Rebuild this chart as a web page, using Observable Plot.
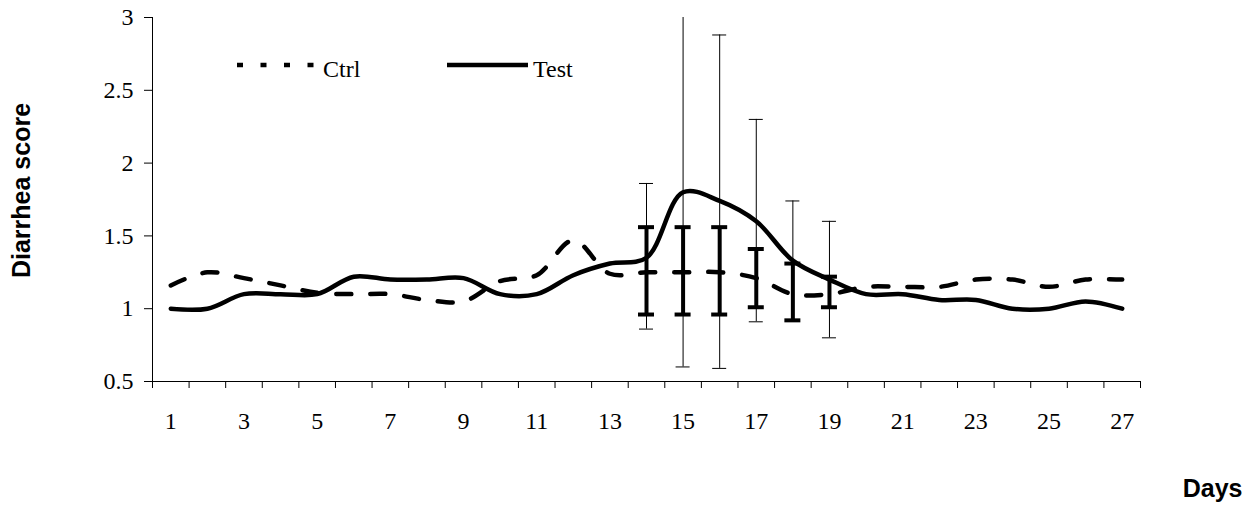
<!DOCTYPE html>
<html>
<head>
<meta charset="utf-8">
<script src="https://cdn.jsdelivr.net/npm/d3@7"></script>
<script src="https://cdn.jsdelivr.net/npm/@observablehq/plot@0.6"></script>
<style>
  html, body { margin: 0; padding: 0; background: #fff; }
  #chart svg { display: block; }
</style>
</head>
<body>
<div id="chart"></div>
<script>
// ---- data ----
const days = d3.range(1, 28);
const ctrl = [1.16, 1.25, 1.21, 1.16, 1.11, 1.10, 1.10, 1.06, 1.05, 1.19, 1.23, 1.47, 1.24, 1.25,
              1.25, 1.25, 1.21, 1.10, 1.10, 1.15, 1.15, 1.15, 1.20, 1.20, 1.15, 1.20, 1.20];
const test = [1.00, 1.00, 1.10, 1.10, 1.10, 1.22, 1.20, 1.20, 1.21, 1.10, 1.10, 1.23, 1.31, 1.35,
              1.80, 1.74, 1.60, 1.33, 1.20, 1.10, 1.10, 1.06, 1.06, 1.00, 1.00, 1.05, 1.00];
const errDays = [14, 15, 16, 17, 18, 19];
const ctrlLo = [0.96, 0.96, 0.96, 1.01, 0.92, 1.01];
const ctrlHi = [1.56, 1.56, 1.56, 1.41, 1.31, 1.22];
const testLo = [0.86, 0.60, 0.59, 0.91, 0.92, 0.80];
const testHi = [1.86, 3.05, 2.88, 2.30, 1.74, 1.60];
const yTicks = [0.5, 1, 1.5, 2, 2.5, 3];
const xLabels = d3.range(1, 28, 2);
const xBounds = d3.range(0.5, 28, 1);
const seriesNames = ["Ctrl", "Test"];
const yTitle = "Diarrhea score";
const xTitle = "Days";

// ---- tables ----
const ctrlRows = days.map((d, i) => ({day: d, v: ctrl[i]}));
const testRows = days.map((d, i) => ({day: d, v: test[i]}));
const ctrlErr = errDays.map((d, i) => ({day: d, lo: ctrlLo[i], hi: ctrlHi[i]}));
const testErr = errDays.map((d, i) => ({day: d, lo: testLo[i], hi: testHi[i]}));

const sansBold = {fontFamily: "Liberation Sans, Arial, sans-serif", fontWeight: "bold", fontSize: 25};

const plot = Plot.plot({
  width: 1257,
  height: 512,
  marginLeft: 152,
  marginRight: 117,
  marginTop: 17,
  marginBottom: 131,
  style: {fontFamily: "Liberation Serif, Times New Roman, serif", fontSize: "24px", background: "#fff", color: "#000"},
  x: {domain: [0.5, 27.5]},
  y: {domain: [0.5, 3]},
  marks: [
    Plot.ruleX([0.5], {stroke: "#000", strokeWidth: 1}),
    Plot.ruleY([0.5], {stroke: "#000", strokeWidth: 1}),
    Plot.axisY({ticks: yTicks, tickSize: 8, tickPadding: 11, tickFormat: d => String(d), label: null, stroke: "#000"}),
    Plot.axisX({ticks: xBounds, tickSize: 7, tickFormat: () => "", label: null}),
    Plot.axisX({ticks: xLabels, tickSize: 0, tickPadding: 30, tickFormat: d => String(d), label: null}),
    Plot.line(ctrlRows, {x: "day", y: "v", curve: "catmull-rom", stroke: "#000", strokeWidth: 4.5, strokeDasharray: "15,19"}),
    Plot.line(testRows, {x: "day", y: "v", curve: "catmull-rom", stroke: "#000", strokeWidth: 4.5}),
    // thin error bars (Test)
    Plot.ruleX(testErr, {x: "day", y1: "lo", y2: "hi", stroke: "#000", strokeWidth: 1, clip: true}),
    Plot.ruleY(testErr, {y: "hi", x1: "day", x2: "day", insetLeft: -7, insetRight: -7, stroke: "#000", strokeWidth: 1, clip: true}),
    Plot.ruleY(testErr, {y: "lo", x1: "day", x2: "day", insetLeft: -7, insetRight: -7, stroke: "#000", strokeWidth: 1, clip: true}),
    // thick error bars (Ctrl)
    Plot.ruleX(ctrlErr, {x: "day", y1: "lo", y2: "hi", stroke: "#000", strokeWidth: 4}),
    Plot.ruleY(ctrlErr, {y: "hi", x1: "day", x2: "day", insetLeft: -8, insetRight: -8, stroke: "#000", strokeWidth: 4}),
    Plot.ruleY(ctrlErr, {y: "lo", x1: "day", x2: "day", insetLeft: -8, insetRight: -8, stroke: "#000", strokeWidth: 4}),
    // axis titles
    Plot.text([yTitle], {frameAnchor: "left", textAnchor: "middle", rotate: -90, dx: -131, dy: -9, text: d => d, ...sansBold}),
    Plot.text([xTitle], {frameAnchor: "bottom-right", textAnchor: "end", dx: 102, dy: 115, text: d => d, ...sansBold})
  ]
});

// legend (drawn inside the plot area, top-left)
const svg = d3.select(plot);
const legend = svg.append("g")
  .attr("font-family", "Liberation Serif, Times New Roman, serif")
  .attr("font-size", 24)
  .attr("text-anchor", "start");
const legendItems = [
  {name: seriesNames[0], x: 237, dash: "6,17.5"},
  {name: seriesNames[1], x: 447, dash: null}
];
legendItems.forEach(it => {
  legend.append("line")
    .attr("x1", it.x).attr("x2", it.x + 81).attr("y1", 65).attr("y2", 65)
    .attr("stroke", "#000").attr("stroke-width", 4.5)
    .attr("stroke-dasharray", it.dash);
  legend.append("text")
    .attr("x", it.x + 86).attr("y", 77)
    .attr("fill", "#000")
    .attr("text-anchor", "start")
    .text(it.name);
});

document.getElementById("chart").appendChild(plot);
</script>
</body>
</html>
